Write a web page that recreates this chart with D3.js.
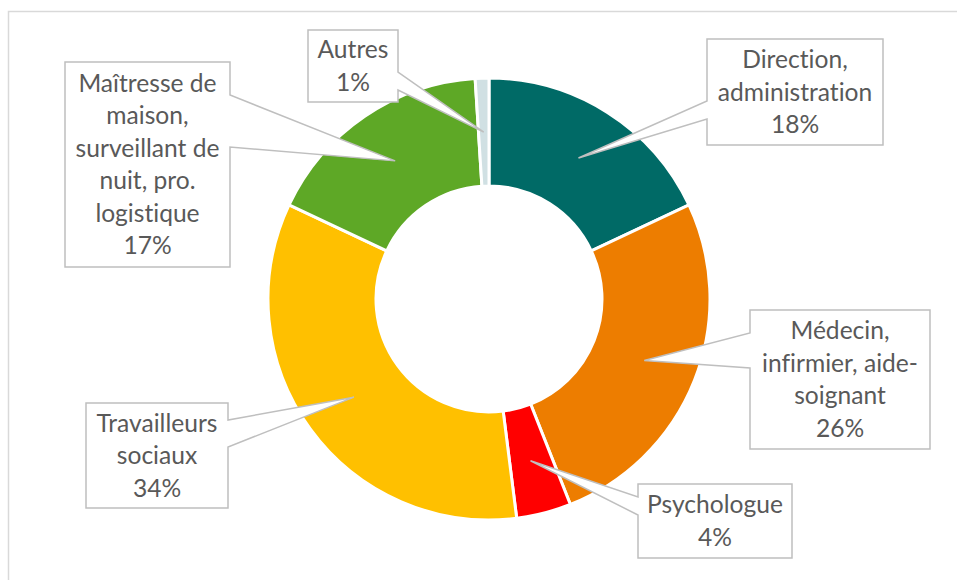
<!DOCTYPE html>
<html>
<head>
<meta charset="utf-8">
<script src="https://cdn.jsdelivr.net/npm/d3@7"></script>
<style>
  body { margin: 0; background: #fff; }
  svg { display: block; }
</style>
</head>
<body>
<script>
// Données du graphique
const categories = ["Direction, administration", "Médecin, infirmier, aide-soignant", "Psychologue",
  "Travailleurs sociaux", "Maîtresse de maison, surveillant de nuit, pro. logistique", "Autres"];
const valeurs = [18, 26, 4, 34, 17, 1];
const etiquettes = [
  ["Direction,", "administration", "18%"],
  ["Médecin,", "infirmier, aide-", "soignant", "26%"],
  ["Psychologue", "4%"],
  ["Travailleurs", "sociaux", "34%"],
  ["Maîtresse de", "maison,", "surveillant de", "nuit, pro.", "logistique", "17%"],
  ["Autres", "1%"]
];
const couleurs = ["#006A66", "#ED7D00", "#FF0000", "#FFC000", "#5EA826", "#D0E0E3"];

const WIDTH = 957;
const HEIGHT = 580;
const CX = 489, CY = 299;
const R_EXT = 221, R_INT = 113;

// Boîtes des étiquettes : position, taille, côté du bec et sa base
const boites = [
  { x: 707, y: 39, w: 176, h: 106, cote: "gauche", a: 62, b: 80 },
  { x: 750, y: 310, w: 180, h: 139, cote: "gauche", a: 23, b: 58 },
  { x: 638, y: 484, w: 154, h: 74, cote: "gauche", a: 13, b: 31 },
  { x: 86, y: 403, w: 142, h: 105, cote: "droite", a: 17, b: 44 },
  { x: 65, y: 62, w: 165, h: 205, cote: "droite", a: 33, b: 85 },
  { x: 308, y: 30, w: 90, h: 72, cote: "droite", a: 42, b: 60 }
];

const svg = d3.select("body")
  .append("svg")
  .attr("width", WIDTH)
  .attr("height", HEIGHT);

// Cadre du graphique
svg.append("rect")
  .attr("x", 8.5).attr("y", 11.5)
  .attr("width", WIDTH + 20).attr("height", HEIGHT + 20)
  .attr("fill", "none")
  .attr("stroke", "#D9D9D9")
  .attr("stroke-width", 1.5);

const datos = categories.map((c, i) => ({ cat: c, val: valeurs[i], lignes: etiquettes[i], i }));

const pie = d3.pie().value(d => d.val).sort(null);
const arcs = pie(datos);

const arc = d3.arc().innerRadius(R_INT).outerRadius(R_EXT);
const arcMilieu = d3.arc().innerRadius((R_INT + R_EXT) / 2).outerRadius((R_INT + R_EXT) / 2);

const g = svg.append("g").attr("transform", `translate(${CX}, ${CY})`);

g.selectAll("path.part")
  .data(arcs)
  .join("path")
  .attr("class", "part")
  .attr("d", arc)
  .attr("fill", d => couleurs[d.data.i])
  .attr("stroke", "#fff")
  .attr("stroke-width", 3);

// Bulle : rectangle avec un bec qui pointe vers la part
function bulle(b, tip) {
  const x0 = b.x, y0 = b.y, x1 = b.x + b.w, y1 = b.y + b.h;
  if (b.cote === "gauche") {
    return `M${x0},${y0} L${x1},${y0} L${x1},${y1} L${x0},${y1} L${x0},${y0 + b.b} L${tip[0]},${tip[1]} L${x0},${y0 + b.a} Z`;
  }
  return `M${x0},${y0} L${x1},${y0} L${x1},${y0 + b.a} L${tip[0]},${tip[1]} L${x1},${y0 + b.b} L${x1},${y1} L${x0},${y1} Z`;
}

const LINE = 32.5;
const etiq = svg.append("g");

arcs.forEach(a => {
  const b = boites[a.data.i];
  const c = arcMilieu.centroid(a);
  const tip = [CX + c[0], CY + c[1]];
  etiq.append("path")
    .attr("d", bulle(b, tip))
    .attr("fill", "#fff")
    .attr("stroke", "#BFBFBF")
    .attr("stroke-width", 1.5)
    .attr("stroke-linejoin", "miter");

  const lignes = a.data.lignes;
  const yc = b.y + b.h / 2;
  const t = etiq.append("text")
    .attr("text-anchor", "middle")
    .attr("font-family", "Lato, 'Open Sans', sans-serif")
    .attr("font-size", 24.6)
    .style("font-variant-ligatures", "none")
    .attr("fill", "#595959");
  lignes.forEach((l, k) => {
    t.append("tspan")
      .attr("x", b.x + b.w / 2)
      .attr("y", yc + (k - (lignes.length - 1) / 2) * LINE)
      .attr("dy", "0.35em")
      .text(l);
  });
});
</script>
</body>
</html>
